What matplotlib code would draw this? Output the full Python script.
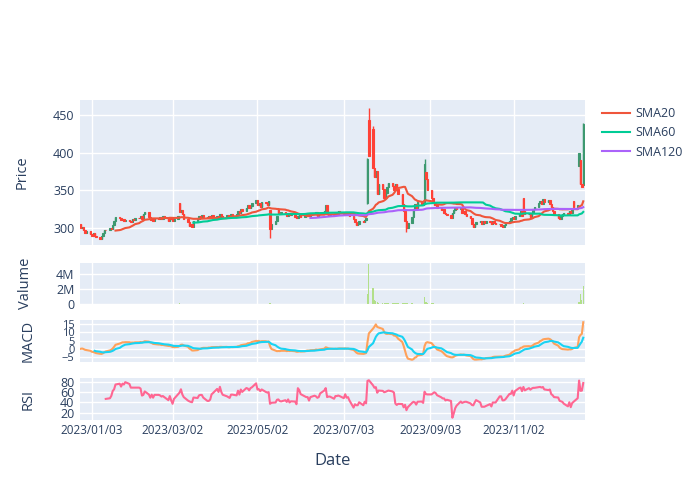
import matplotlib
matplotlib.use("Agg")
import matplotlib.pyplot as plt
import matplotlib.dates as mdates
from matplotlib.lines import Line2D
import numpy as np
import pandas as pd

plt.rcParams["font.family"] = ["Open Sans", "DejaVu Sans"]

# weekday dates, one row of closes per week (Mon..Fri)
dates = pd.bdate_range("2022-12-26", "2023-12-22")

close_weeks = [
    [300, 302, 297, 294, 296], [292, 289, 293, 290, 288], [286, 289, 294, 298, 297],
    [300, 299, 304, 310, 315], [313, 311, 312, 309, 311], [310, 308, 312, 311, 314],
    [313, 316, 312, 318, 321], [315, 311, 313, 310, 314], [312, 315, 312, 316, 313],
    [310, 314, 312, 309, 312], [316, 321, 324, 319, 312], [308, 303, 306, 302, 309],
    [312, 316, 314, 317, 315], [313, 316, 314, 317, 315], [316, 314, 318, 316, 315],
    [317, 314, 316, 318, 316], [318, 322, 320, 325, 323], [327, 330, 326, 329, 333],
    [337, 330, 333, 328, 335], [333, 330, 336, 299, 306], [310, 316, 320, 318, 321],
    [319, 316, 320, 317, 319], [315, 313, 316, 318, 315], [317, 320, 318, 316, 319],
    [318, 321, 316, 319, 320], [322, 330, 318, 316, 318], [317, 320, 318, 322, 320],
    [319, 321, 318, 320, 316], [312, 308, 304, 306, 309], [308, 311, 313, 392, 395],
    [380, 368, 376, 345, 358], [352, 340, 346, 355, 360], [356, 350, 358, 352, 345],
    [332, 322, 310, 300, 307], [315, 325, 332, 327, 335], [330, 333, 385, 365, 350],
    [340, 334, 330, 331, 326], [324, 325, 320, 318, 317], [314, 320, 324, 327, 325],
    [327, 320, 322, 318, 316], [314, 305, 302, 306, 308], [310, 306, 309, 307, 310],
    [308, 306, 309, 307, 305], [306, 303, 302, 304, 307], [310, 313, 315, 312, 316],
    [318, 322, 316, 322, 318], [318, 315, 320, 325, 328], [333, 336, 332, 338, 335],
    [337, 332, 328, 322, 318], [314, 312, 316, 318, 320], [318, 322, 320, 324, 328],
    [330, 400, 358, 355, 438],
]

# days whose open is not the previous close
open_gaps = {
    "2022-12-26": 306, "2023-03-07": 333, "2023-05-11": 324, "2023-05-17": 325,
    "2023-07-20": 333, "2023-07-21": 443, "2023-07-24": 432, "2023-08-30": 335,
    "2023-08-31": 374, "2023-11-09": 340, "2023-12-15": 336, "2023-12-19": 382,
    "2023-12-20": 390, "2023-12-22": 357,
}
high_wicks = {"2023-07-20": 393, "2023-07-21": 460, "2023-07-24": 436,
              "2023-08-30": 392, "2023-12-22": 440}
low_wicks = {"2023-05-11": 287, "2023-08-17": 295, "2023-07-20": 332}

# volume in thousands
volume_weeks = [
    [45, 30, 28, 35, 25], [40, 38, 30, 26, 32], [28, 30, 35, 42, 30], [38, 30, 45, 55, 60],
    [40, 32, 30, 28, 26], [25, 30, 28, 24, 33], [30, 35, 28, 40, 45], [32, 28, 25, 27, 30],
    [26, 30, 24, 28, 25], [27, 25, 23, 26, 24], [30, 75, 45, 35, 38], [40, 45, 30, 42, 35],
    [30, 28, 25, 27, 24], [23, 25, 22, 26, 24], [22, 21, 25, 23, 20], [22, 24, 21, 23, 22],
    [26, 35, 28, 40, 30], [38, 35, 30, 33, 42], [45, 40, 32, 35, 38], [30, 28, 35, 110, 60],
    [45, 40, 35, 30, 32], [28, 26, 27, 24, 25], [24, 26, 23, 25, 22], [23, 25, 24, 22, 24],
    [22, 24, 23, 25, 24], [26, 55, 40, 30, 28], [25, 27, 24, 28, 26], [25, 27, 24, 26, 30],
    [35, 40, 45, 33, 30], [28, 30, 60, 1400, 5400], [2100, 500, 350, 280, 200],
    [160, 140, 110, 120, 100], [90, 85, 100, 80, 75], [90, 110, 130, 120, 80],
    [70, 65, 60, 55, 60], [50, 55, 950, 320, 150], [100, 80, 60, 50, 45],
    [40, 38, 42, 45, 36], [40, 35, 33, 35, 30], [28, 32, 27, 30, 30], [28, 45, 40, 30, 28],
    [25, 24, 23, 22, 24], [22, 21, 23, 22, 24], [23, 26, 25, 22, 24], [28, 30, 32, 27, 30],
    [35, 38, 30, 70, 40], [30, 28, 32, 38, 40], [45, 42, 38, 40, 35], [38, 35, 33, 40, 42],
    [36, 30, 28, 27, 30], [28, 30, 27, 35, 60], [50, 250, 1300, 500, 2400],
]

tick_dates = ["2023-01-03", "2023-03-02", "2023-05-02", "2023-07-03", "2023-09-03", "2023-11-02"]

df = pd.DataFrame(index=dates)
df["close"] = np.concatenate(close_weeks).astype(float)
df["open"] = df["close"].shift(1)
for d, v in open_gaps.items():
    df.loc[d, "open"] = v
df["high"] = df[["open", "close"]].max(axis=1)
df["low"] = df[["open", "close"]].min(axis=1)
for d, v in high_wicks.items():
    df.loc[d, "high"] = v
for d, v in low_wicks.items():
    df.loc[d, "low"] = v
df["volume"] = np.concatenate(volume_weeks) * 1000.0

df["sma20"] = df["close"].rolling(20).mean()
df["sma60"] = df["close"].rolling(60).mean()
df["sma120"] = df["close"].rolling(120).mean()
ema12 = df["close"].ewm(span=12, adjust=False).mean()
ema26 = df["close"].ewm(span=26, adjust=False).mean()
df["macd"] = ema12 - ema26
df["signal"] = df["macd"].ewm(span=9, adjust=False, min_periods=9).mean()
delta = df["close"].diff()
gain = delta.clip(lower=0).rolling(14).mean()
loss = (-delta.clip(upper=0)).rolling(14).mean()
df["rsi"] = 100 - 100 / (1 + gain / loss)

BG = "#E5ECF6"
TXT = "#2a3f5f"
fig = plt.figure(figsize=(7, 5), dpi=100)
L, W = 80 / 700, 505 / 700
ax_p = fig.add_axes([L, 1 - 245 / 500, W, 145 / 500])
ax_v = fig.add_axes([L, 1 - 304 / 500, W, 41 / 500])
ax_m = fig.add_axes([L, 1 - 362 / 500, W, 42 / 500])
ax_r = fig.add_axes([L, 1 - 420 / 500, W, 42 / 500])

up = df["close"] >= df["open"]
for mask, col in [(up, "#3D9970"), (~up, "#FF4136")]:
    sub = df[mask]
    ax_p.vlines(sub.index, sub["low"], sub["high"], color=col, linewidth=1, zorder=3)
    ax_p.bar(sub.index, (sub["close"] - sub["open"]).abs().clip(lower=0.8),
             bottom=sub[["open", "close"]].min(axis=1), width=1.0,
             color=col, edgecolor=col, linewidth=0.8, zorder=3)

ax_p.plot(df.index, df["sma20"], color="#EF553B", lw=1.5, zorder=4)
ax_p.plot(df.index, df["sma60"], color="#00CC96", lw=1.5, zorder=4)
ax_p.plot(df.index, df["sma120"], color="#AB63FA", lw=1.5, zorder=4)
ax_p.set_ylim(277.5, 470)
ax_p.set_yticks([300, 350, 400, 450])

ax_v.bar(df.index, df["volume"], width=0.9, color="#b2df8a", zorder=3)
ax_v.set_ylim(0, 5.5e6)
ax_v.set_yticks([0, 2e6, 4e6])
ax_v.set_yticklabels(["0", "2M", "4M"])

ax_m.plot(df.index, df["macd"], color="#FFA15A", lw=1.5, zorder=3)
ax_m.plot(df.index, df["signal"], color="#19D3F3", lw=1.5, zorder=3)
lo, hi = df["macd"].min(), df["macd"].max()
pad = (hi - lo) * 0.06
ax_m.set_ylim(lo - pad, hi + pad)
ax_m.set_yticks([-5, 0, 5, 10, 15])

ax_r.plot(df.index, df["rsi"], color="#FF6692", lw=1.5, zorder=3)
lo, hi = df["rsi"].min(), df["rsi"].max()
pad = (hi - lo) * 0.06
ax_r.set_ylim(lo - pad, hi + pad)
ax_r.set_yticks([20, 40, 60, 80])

ticks = pd.to_datetime(tick_dates)
xmin, xmax = pd.Timestamp("2022-12-25 12:00"), pd.Timestamp("2023-12-23 06:00")
for ax in (ax_p, ax_v, ax_m, ax_r):
    ax.set_facecolor(BG)
    ax.set_xlim(xmin, xmax)
    ax.set_xticks(ticks)
    ax.grid(True, color="white", linewidth=1, zorder=0)
    ax.set_axisbelow(True)
    for s in ax.spines.values():
        s.set_visible(False)
    ax.tick_params(length=0, labelsize=9, colors=TXT, pad=4)
    if ax is not ax_r:
        ax.tick_params(labelbottom=False)
ax_m.tick_params(axis="y", labelsize=8)
ax_r.xaxis.set_major_formatter(mdates.DateFormatter("%Y/%m/%d"))
ax_r.tick_params(axis="x", labelsize=8.5, pad=3)

for ax, name, xc in [(ax_p, "Price", -0.099), (ax_v, "Valume", -0.093),
                     (ax_m, "MACD", -0.087), (ax_r, "RSI", -0.087)]:
    ax.set_ylabel(name, fontsize=10.5, color=TXT)
    ax.yaxis.set_label_coords(xc, 0.5)

fig.text(332.5 / 700, 1 - 461 / 500, "Date", fontsize=12, color=TXT, ha="center", va="center")

handles = [Line2D([], [], color="#EF553B", lw=1.5),
           Line2D([], [], color="#00CC96", lw=1.5),
           Line2D([], [], color="#AB63FA", lw=1.5)]
fig.legend(handles, ["SMA20", "SMA60", "SMA120"], loc="upper left",
           bbox_to_anchor=(0.86, 0.786), frameon=False, fontsize=9,
           handlelength=2.2, handletextpad=0.5, labelspacing=0.5, borderpad=0,
           borderaxespad=0, labelcolor=TXT)

fig.savefig("out.png", dpi=100, facecolor="white")
